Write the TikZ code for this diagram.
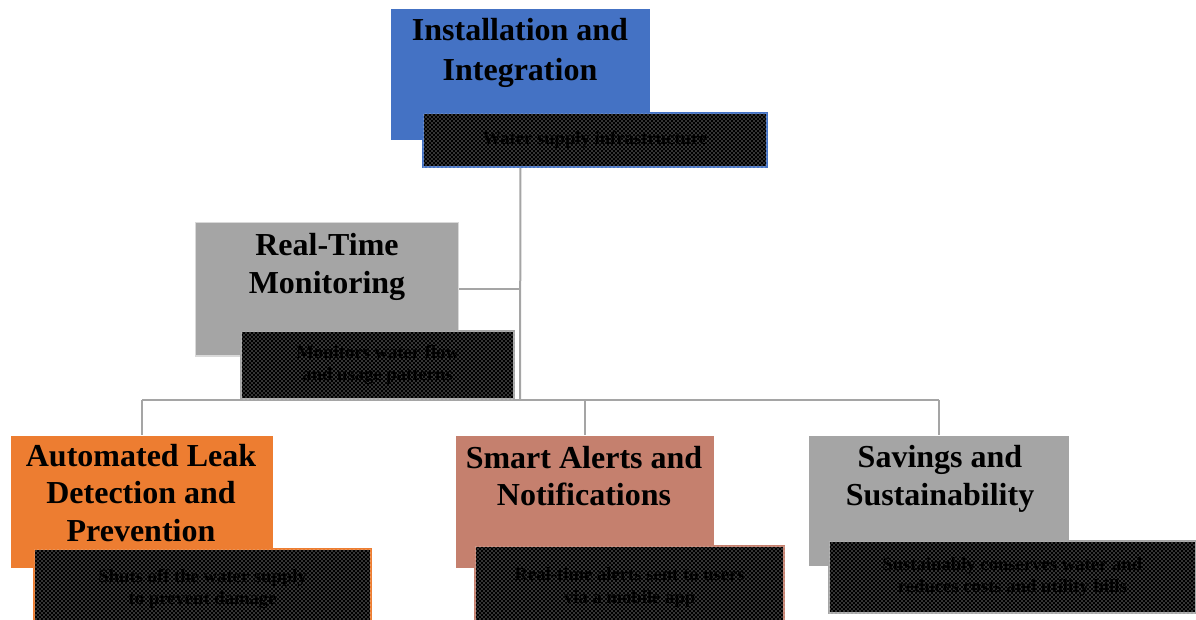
\documentclass[tikz,border=0pt]{standalone}
\usepackage{fontspec}
\setmainfont{Liberation Serif}
\usepackage{tikz}
\usetikzlibrary{patterns, positioning, backgrounds}

\definecolor{instblue}{HTML}{4472C4}
\definecolor{boxgray}{HTML}{A5A5A5}
\definecolor{leakorange}{HTML}{ED7D31}
\definecolor{alertred}{HTML}{C5806E}

\begin{document}
\begin{tikzpicture}[
        x=0.75pt, y=-0.75pt,
        mainbox/.style={draw=white, line width=1pt, anchor=north west, inner sep=0pt},
        titletext/.style={font=\fontsize{24}{28}\selectfont\bfseries, align=center, inner sep=0pt},
        dotbox/.style={anchor=north west, inner sep=0pt, line width=1.5pt, fill=black,
            postaction={pattern=crosshatch dots, pattern color=white!90!black}},
        dottext/.style={font=\fontsize{14}{17}\selectfont\bfseries, text=black, align=center},
        link/.style={draw=boxgray, line width=1.5pt}
    ]
    \useasboundingbox (0,0) rectangle (1196,619);

    % Hauptkaesten
    \node[mainbox, fill=instblue, minimum width=195pt, minimum height=99pt] (inst) at (390,8) {};
    \node[mainbox, fill=boxgray, draw=white!85!black, minimum width=197pt, minimum height=100pt] (rt) at (195,222) {};
    \node[mainbox, fill=leakorange, minimum width=197pt, minimum height=100pt] (leak) at (10,435) {};
    \node[mainbox, fill=alertred, minimum width=194pt, minimum height=100pt] (alert) at (455,435) {};
    \node[mainbox, fill=boxgray, minimum width=196pt, minimum height=98pt] (sav) at (808,435) {};

    % Titel
    \node[titletext, font=\fontsize{24}{29.5}\selectfont\bfseries] (inst-t) at (520,53) {Installation and\\Integration};
    \node[titletext] (rt-t) at (327,267) {Real-Time\\Monitoring};
    \node[titletext] (leak-t) at (141,493) {Automated Leak\\Detection and\\Prevention};
    \node[titletext] (alert-t) at (584,476) {Smart Alerts and\\Notifications};
    \node[titletext] (sav-t) at (940,479) {Savings and\\Sustainability};

    % gepunktete Beschreibungen
    \node[dotbox, draw=instblue, minimum width=258pt, minimum height=40.5pt] (inst-d) at (422,112) {};
    \node[dottext] at (inst-d.center) {Water supply infrastructure};
    \node[dotbox, draw=boxgray, minimum width=205pt, minimum height=51pt] (rt-d) at (240,330) {};
    \node[dottext] at (rt-d.center) {Monitors water flow\\and usage patterns};
    \node[dotbox, draw=leakorange, minimum width=253pt, minimum height=60pt] (leak-d) at (33,548) {};
    \node[dottext] at (leak-d.center) {Shuts off the water supply\\to prevent damage};
    \node[dotbox, draw=alertred, minimum width=232pt, minimum height=62pt] (alert-d) at (474,545) {};
    \node[dottext] at (alert-d.center) {Real-time alerts sent to users\\via a mobile app};
    \node[dotbox, draw=boxgray, minimum width=275pt, minimum height=54pt] (sav-d) at (828,540) {};
    \node[dottext] at (sav-d.center) {Sustainably conserves water and\\reduces costs and utility bills};

    % Verbindungslinien
    \coordinate (bus) at (520,400);
    \begin{scope}[on background layer]
        \draw[link] (inst.center) -- (bus);
        \draw[link] (rt.east) -- (rt.east -| inst.center);
        \draw[link] (leak |- bus) -- (sav |- bus);
        \draw[link] (leak |- bus) -- (leak.north);
        \draw[link] (alert |- bus) -- (alert.north);
        \draw[link] (sav |- bus) -- (sav.north);
    \end{scope}

\end{tikzpicture}
\end{document}
